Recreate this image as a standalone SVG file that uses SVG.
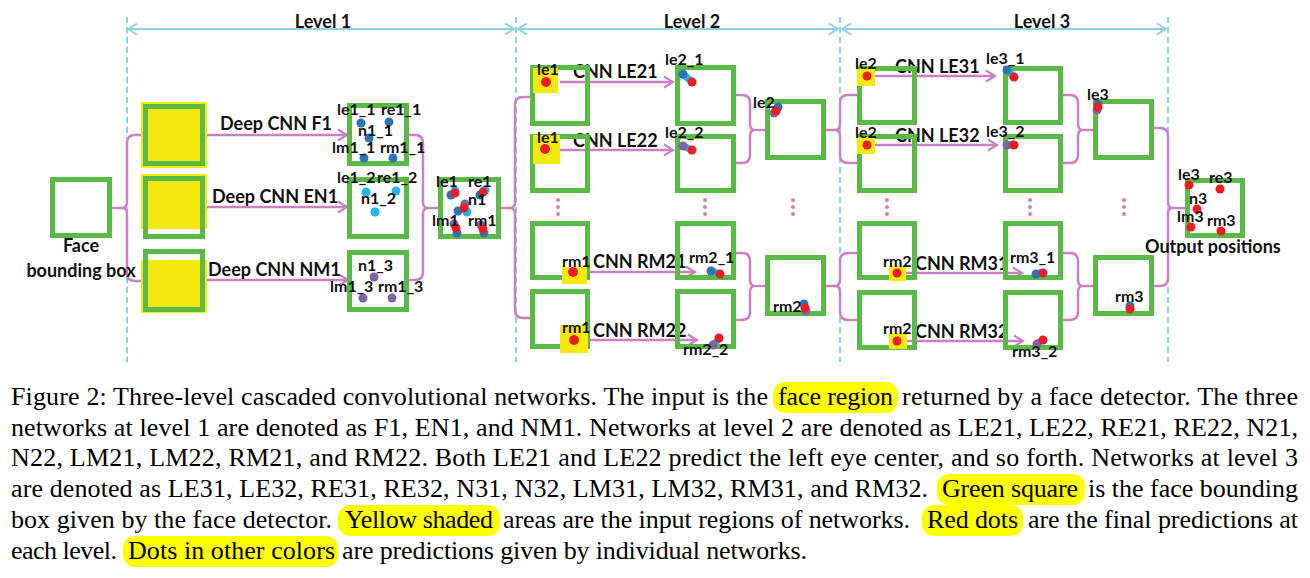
<svg xmlns="http://www.w3.org/2000/svg" width="1310" height="578" viewBox="0 0 1310 578">
<style>
.g{fill:none;stroke:#5bb947;stroke-width:5}
.y{fill:#f5ea10}
.c{fill:none;stroke:#cb80c4;stroke-width:2.5}
.a{marker-end:url(#ap)}
.lv{stroke:#8fd0e6;stroke-width:2;fill:none;marker-start:url(#al);marker-end:url(#al)}
.ds{stroke:#8fd0e6;stroke-width:2;stroke-dasharray:6 4;fill:none}
.t{font-family:Lato,"Open Sans",sans-serif;font-weight:bold;font-size:18px;fill:#111}
.s{font-size:16px}
.m{text-anchor:middle}
.cap{font-family:"Liberation Serif","Times New Roman",serif;font-size:26px;fill:#000}
.hl{fill:#ffff00}
.r{fill:#ee1d24}.b{fill:#2e74b5}.lb{fill:#22b5ec}.p{fill:#8063a4}
.lbl{stroke:#22b5ec;stroke-width:7;stroke-linecap:round}
.dt{fill:#cb80c4}
</style>
<defs>
<marker id="ap" markerUnits="userSpaceOnUse" markerWidth="14" markerHeight="14" refX="11" refY="7" orient="auto"><path d="M2,1.5 L11,7 L2,12.5" fill="none" stroke="#cb80c4" stroke-width="2.2"/></marker>
<marker id="al" markerUnits="userSpaceOnUse" markerWidth="14" markerHeight="14" refX="11" refY="7" orient="auto-start-reverse"><path d="M2,1.5 L11,7 L2,12.5" fill="none" stroke="#8fd0e6" stroke-width="2"/></marker>
</defs>

<g id="levels">
<line class="ds" x1="127" y1="17" x2="127" y2="362"/>
<line class="ds" x1="516" y1="17" x2="516" y2="362"/>
<line class="ds" x1="840" y1="17" x2="840" y2="362"/>
<line class="ds" x1="1168" y1="17" x2="1168" y2="362"/>
<line class="lv" x1="128" y1="29" x2="514" y2="29"/>
<line class="lv" x1="518" y1="29" x2="838" y2="29"/>
<line class="lv" x1="842" y1="29" x2="1166" y2="29"/>
<text class="t m" x="323" y="28">Level 1</text>
<text class="t m" x="692" y="28">Level 2</text>
<text class="t m" x="1042" y="28">Level 3</text>
</g>

<g id="connectors">
<path class="c" d="M112,208 H122 M143,135 H135 Q127,135 127,143 V202 Q127,208 122,208 Q127,208 127,214 V273 Q127,281 135,281 H143"/>
<path class="c a" d="M207,135 H347"/>
<path class="c a" d="M207,207 H347"/>
<path class="c a" d="M207,280 H348"/>
<path class="c" d="M409,135 H415 Q423,135 423,143 V202 Q423,208 428,208 Q423,208 423,214 V272 Q423,280 415,280 H409 M428,208 H439"/>
<path class="c" d="M500,208 H510 M530,97 H523 Q515,97 515,105 V202 Q515,208 510,208 Q515,208 515,214 V310 Q515,318 523,318 H530"/>
<path class="c a" d="M560,82 H673"/>
<path class="c a" d="M560,150 H673"/>
<path class="c a" d="M587,272 H695"/>
<path class="c a" d="M588,340 H697"/>
<path class="c" d="M736,95 H742 Q750,95 750,103 V124 Q750,130 755,130 Q750,130 750,136 V155 Q750,163 742,163 H736 M755,130 H765"/>
<path class="c" d="M736,253 H742 Q750,253 750,261 V280 Q750,286 755,286 Q750,286 750,292 V312 Q750,320 742,320 H736 M755,286 H765"/>
<path class="c" d="M826,130 H835 M857,95 H848 Q840,95 840,103 V124 Q840,130 835,130 Q840,130 840,136 V155 Q840,163 848,163 H857"/>
<path class="c" d="M826,286 H835 M857,253 H848 Q840,253 840,261 V280 Q840,286 835,286 Q840,286 840,292 V312 Q840,320 848,320 H857"/>
<path class="c a" d="M875,76 H995"/>
<path class="c a" d="M875,145 H997"/>
<path class="c a" d="M906,273 H1022"/>
<path class="c a" d="M907,341 H1023"/>
<path class="c" d="M1063,95 H1070 Q1078,95 1078,103 V124 Q1078,130 1083,130 Q1078,130 1078,136 V155 Q1078,163 1070,163 H1063 M1083,130 H1093"/>
<path class="c" d="M1063,253 H1070 Q1078,253 1078,261 V280 Q1078,286 1083,286 Q1078,286 1078,292 V312 Q1078,320 1070,320 H1063 M1083,286 H1093"/>
<path class="c" d="M1154,128 H1160 Q1168,128 1168,136 V202 Q1168,208 1173,208 Q1168,208 1168,214 V278 Q1168,286 1160,286 H1154 M1173,208 H1185"/>
<circle class="dt" cx="558" cy="200" r="2"/><circle class="dt" cx="558" cy="207" r="2"/><circle class="dt" cx="558" cy="214" r="2"/>
<circle class="dt" cx="705" cy="200" r="2"/><circle class="dt" cx="705" cy="207" r="2"/><circle class="dt" cx="705" cy="214" r="2"/>
<circle class="dt" cx="793" cy="200" r="2"/><circle class="dt" cx="793" cy="207" r="2"/><circle class="dt" cx="793" cy="214" r="2"/>
<circle class="dt" cx="887" cy="200" r="2"/><circle class="dt" cx="887" cy="207" r="2"/><circle class="dt" cx="887" cy="214" r="2"/>
<circle class="dt" cx="1030" cy="200" r="2"/><circle class="dt" cx="1030" cy="207" r="2"/><circle class="dt" cx="1030" cy="214" r="2"/>
<circle class="dt" cx="1124" cy="200" r="2"/><circle class="dt" cx="1124" cy="207" r="2"/><circle class="dt" cx="1124" cy="214" r="2"/>
<text class="t" x="220" y="130">Deep CNN F1</text>
<text class="t" x="212" y="203">Deep CNN EN1</text>
<text class="t" x="208" y="276">Deep CNN NM1</text>
<text class="t" x="573" y="78">CNN LE21</text>
<text class="t" x="573" y="147">CNN LE22</text>
<text class="t" x="593" y="268">CNN RM21</text>
<text class="t" x="593" y="337">CNN RM22</text>
<text class="t" x="895" y="73">CNN LE31</text>
<text class="t" x="895" y="142">CNN LE32</text>
<text class="t" x="915" y="270">CNN RM31</text>
<text class="t" x="915" y="338">CNN RM32</text>
</g>

<g id="face">
<rect class="g" x="52.5" y="179.5" width="57" height="56" fill="#fff"/>
<text class="t m" x="81" y="252">Face</text>
<text class="t m" x="81" y="277">bounding box</text>
</g>
<g id="in-F1"><rect class="y" x="141" y="102" width="66" height="66"/><rect class="g" x="145.5" y="106.5" width="57" height="57"/></g>
<g id="in-EN1"><rect class="y" x="141" y="174" width="66" height="55"/><rect class="g" x="145.5" y="178.5" width="57" height="58"/></g>
<g id="in-NM1"><rect class="y" x="141" y="260" width="66" height="53"/><rect class="g" x="145.5" y="251.5" width="57" height="58"/></g>

<g id="out-F1">
<rect class="g" x="349.5" y="105.5" width="57" height="58"/>
<circle class="b" cx="361" cy="123" r="4.5"/><circle class="b" cx="389" cy="122" r="4.5"/><circle class="b" cx="369" cy="138" r="4.5"/><circle class="b" cx="364" cy="158" r="4.5"/><circle class="b" cx="393" cy="158" r="4.5"/>
<text class="t s" x="337" y="115">le1_1</text><text class="t s" x="381" y="115">re1_1</text>
<text class="t s" x="358" y="136">n1_1</text>
<text class="t s" x="332" y="153">lm1_1</text><text class="t s" x="380" y="153">rm1_1</text>
</g>
<g id="out-EN1">
<rect class="g" x="349.5" y="179.5" width="57" height="57"/>
<circle class="lb" cx="366" cy="192" r="4.5"/><circle class="lb" cx="396" cy="191" r="4.5"/><circle class="lb" cx="375" cy="212" r="4.5"/>
<text class="t s" x="337" y="183">le1_2</text><text class="t s" x="377" y="183">re1_2</text>
<text class="t s" x="361" y="204">n1_2</text>
</g>
<g id="out-NM1">
<rect class="g" x="349.5" y="252.5" width="57" height="57"/>
<circle class="p" cx="374" cy="277" r="4.5"/><circle class="p" cx="363" cy="298" r="4.5"/><circle class="p" cx="392" cy="298" r="4.5"/>
<text class="t s" x="358" y="271">n1_3</text>
<text class="t s" x="330" y="292">lm1_3</text><text class="t s" x="378" y="292">rm1_3</text>
</g>
<g id="merge-L1">
<rect class="g" x="440.5" y="179.5" width="58" height="57"/>
<circle class="lb" cx="455" cy="191" r="4.5"/><circle class="b" cx="451" cy="195" r="4.5"/><circle class="r" cx="455" cy="193" r="4.5"/>
<circle class="lb" cx="485" cy="190" r="4.5"/><circle class="b" cx="480" cy="195" r="4.5"/><circle class="r" cx="483" cy="192" r="4.5"/>
<circle class="p" cx="465" cy="204" r="4.5"/><circle class="lb" cx="467" cy="212" r="4.5"/><circle class="b" cx="458" cy="211" r="4.5"/><circle class="r" cx="464" cy="208" r="4.5"/>
<circle class="p" cx="454" cy="224" r="4.5"/><circle class="b" cx="457" cy="233" r="4.5"/><circle class="r" cx="456" cy="228" r="4.5"/>
<circle class="p" cx="481" cy="225" r="4.5"/><circle class="b" cx="484" cy="233" r="4.5"/><circle class="r" cx="483" cy="229" r="4.5"/>
<text class="t s" x="436" y="187">le1</text><text class="t s" x="468" y="187">re1</text>
<text class="t s" x="468" y="205">n1</text>
<text class="t s" x="432" y="226">lm1</text><text class="t s" x="468" y="226">rm1</text>
</g>

<g id="L2-LE21-in"><rect class="g" x="532.5" y="67.5" width="55" height="56"/><rect class="y" x="533" y="68" width="25" height="25"/><circle class="r" cx="546" cy="82" r="5"/><text class="t s" x="537" y="75">le1</text></g>
<g id="L2-LE22-in"><rect class="g" x="532.5" y="136.5" width="55" height="54"/><rect class="y" x="533" y="135" width="27" height="29"/><circle class="r" cx="545" cy="149" r="5"/><text class="t s" x="537" y="143">le1</text></g>
<g id="L2-RM21-in"><rect class="g" x="532.5" y="223.5" width="55" height="54"/><rect class="y" x="562" y="267" width="25" height="17"/><circle class="r" cx="573" cy="272" r="5"/><text class="t s" x="562" y="267">rm1</text></g>
<g id="L2-RM22-in"><rect class="g" x="532.5" y="291.5" width="55" height="55"/><rect class="y" x="560" y="325" width="28" height="28"/><circle class="r" cx="574" cy="340" r="5"/><text class="t s" x="562" y="333">rm1</text></g>

<g id="L2-LE21-out"><rect class="g" x="677.5" y="67.5" width="56" height="56"/><line class="lbl" x1="684" y1="75" x2="691" y2="81"/><circle class="b" cx="683" cy="74" r="4.5"/><circle class="r" cx="692" cy="82" r="4.5"/><text class="t s" x="665" y="65">le2_1</text></g>
<g id="L2-LE22-out"><rect class="g" x="677.5" y="136.5" width="56" height="54"/><line class="lbl" x1="684" y1="146" x2="691" y2="150"/><circle class="p" cx="683" cy="146" r="4.5"/><circle class="r" cx="692" cy="150" r="4.5"/><text class="t s" x="665" y="138">le2_2</text></g>
<g id="L2-RM21-out"><rect class="g" x="677.5" y="223.5" width="56" height="54"/><line class="lbl" x1="712" y1="271" x2="719" y2="274"/><circle class="b" cx="711" cy="271" r="4.5"/><circle class="r" cx="720" cy="274" r="4.5"/><text class="t s" x="689" y="263">rm2_1</text></g>
<g id="L2-RM22-out"><rect class="g" x="677.5" y="291.5" width="56" height="55"/><line class="lbl" x1="713" y1="345" x2="719" y2="339"/><circle class="p" cx="713" cy="345" r="4.5"/><circle class="r" cx="719" cy="338" r="4.5"/><text class="t s" x="683" y="355">rm2_2</text></g>
<g id="L2-le2"><rect class="g" x="767.5" y="101.5" width="56" height="56"/><circle class="b" cx="778" cy="107" r="4.5"/><circle class="p" cx="774" cy="113" r="4.5"/><circle class="r" cx="776" cy="111" r="4.5"/><text class="t s" x="753" y="108">le2</text></g>
<g id="L2-rm2"><rect class="g" x="767.5" y="257.5" width="56" height="56"/><circle class="b" cx="804" cy="304" r="4.5"/><circle class="p" cx="806" cy="311" r="4.5"/><circle class="r" cx="805" cy="308" r="4.5"/><text class="t s" x="773" y="312">rm2</text></g>

<g id="L3-LE31-in"><rect class="g" x="859.5" y="68.5" width="55" height="54"/><rect class="y" x="857" y="69" width="18" height="17"/><circle class="r" cx="867" cy="76" r="4.5"/><text class="t s" x="855" y="69">le2</text></g>
<g id="L3-LE32-in"><rect class="g" x="859.5" y="136.5" width="55" height="54"/><rect class="y" x="857" y="137" width="18" height="17"/><circle class="r" cx="867" cy="145" r="4.5"/><text class="t s" x="855" y="138">le2</text></g>
<g id="L3-RM31-in"><rect class="g" x="859.5" y="223.5" width="55" height="54"/><rect class="y" x="889" y="266" width="17" height="15"/><circle class="r" cx="897" cy="273" r="4.5"/><text class="t s" x="883" y="267">rm2</text></g>
<g id="L3-RM32-in"><rect class="g" x="859.5" y="292.5" width="55" height="55"/><rect class="y" x="889" y="333" width="18" height="16"/><circle class="r" cx="897" cy="341" r="4.5"/><text class="t s" x="883" y="334">rm2</text></g>

<g id="L3-LE31-out"><rect class="g" x="1005.5" y="68.5" width="55" height="54"/><line class="lbl" x1="1008" y1="71" x2="1013" y2="76"/><circle class="b" cx="1007" cy="70" r="4.5"/><circle class="r" cx="1014" cy="77" r="4.5"/><text class="t s" x="986" y="64">le3_1</text></g>
<g id="L3-LE32-out"><rect class="g" x="1005.5" y="136.5" width="55" height="54"/><line class="lbl" x1="1008" y1="145" x2="1013" y2="144"/><circle class="p" cx="1007" cy="145" r="4.5"/><circle class="r" cx="1014" cy="145" r="4.5"/><text class="t s" x="986" y="137">le3_2</text></g>
<g id="L3-RM31-out"><rect class="g" x="1005.5" y="223.5" width="55" height="54"/><line class="lbl" x1="1037" y1="274" x2="1042" y2="272"/><circle class="b" cx="1036" cy="274" r="4.5"/><circle class="r" cx="1043" cy="273" r="4.5"/><text class="t s" x="1010" y="263">rm3_1</text></g>
<g id="L3-RM32-out"><rect class="g" x="1005.5" y="292.5" width="55" height="55"/><line class="lbl" x1="1038" y1="343" x2="1042" y2="340"/><circle class="p" cx="1037" cy="344" r="4.5"/><circle class="r" cx="1043" cy="340" r="4.5"/><text class="t s" x="1012" y="357">rm3_2</text></g>
<g id="L3-le3"><rect class="g" x="1095.5" y="101.5" width="56" height="56"/><circle class="b" cx="1098" cy="104" r="4.5"/><circle class="p" cx="1097" cy="110" r="4.5"/><circle class="r" cx="1098" cy="107" r="4.5"/><text class="t s" x="1087" y="100">le3</text></g>
<g id="L3-rm3"><rect class="g" x="1095.5" y="257.5" width="56" height="56"/><circle class="b" cx="1130" cy="306" r="4.5"/><circle class="r" cx="1130" cy="309" r="4.5"/><text class="t s" x="1115" y="302">rm3</text></g>

<g id="output">
<rect class="g" x="1187.5" y="180.5" width="55" height="55"/>
<circle class="r" cx="1189" cy="185" r="4.5"/><circle class="r" cx="1220" cy="189" r="4.5"/><circle class="r" cx="1197" cy="209" r="4.5"/><circle class="r" cx="1191" cy="227" r="4.5"/><circle class="r" cx="1221" cy="231" r="4.5"/>
<text class="t s" x="1178" y="180">le3</text><text class="t s" x="1209" y="183">re3</text>
<text class="t s" x="1189" y="204">n3</text>
<text class="t s" x="1177" y="222">lm3</text><text class="t s" x="1207" y="226">rm3</text>
<text class="t" x="1145" y="253">Output positions</text>
</g>

<g id="caption">
<rect class="hl" x="773" y="382" width="125" height="31" rx="12"/>
<rect class="hl" x="937" y="474" width="148" height="31" rx="12"/>
<rect class="hl" x="338" y="505" width="162" height="31" rx="12"/>
<rect class="hl" x="922" y="505" width="101" height="31" rx="12"/>
<rect class="hl" x="123" y="536" width="215" height="31" rx="12"/>
<text class="cap" x="11" y="405" textLength="757" lengthAdjust="spacing">Figure 2: Three-level cascaded convolutional networks. The input is the</text>
<text class="cap" x="778" y="405" textLength="115" lengthAdjust="spacing">face region</text>
<text class="cap" x="902" y="405" textLength="396" lengthAdjust="spacing">returned by a face detector. The three</text>
<text class="cap" x="11" y="435.5" textLength="1287" lengthAdjust="spacing">networks at level 1 are denoted as F1, EN1, and NM1. Networks at level 2 are denoted as LE21, LE22, RE21, RE22, N21,</text>
<text class="cap" x="11" y="466" textLength="1287" lengthAdjust="spacing">N22, LM21, LM22, RM21, and RM22. Both LE21 and LE22 predict the left eye center, and so forth. Networks at level 3</text>
<text class="cap" x="11" y="497" textLength="917" lengthAdjust="spacing">are denoted as LE31, LE32, RE31, RE32, N31, N32, LM31, LM32, RM31, and RM32.</text>
<text class="cap" x="942" y="497" textLength="136" lengthAdjust="spacing">Green square</text>
<text class="cap" x="1088" y="497" textLength="210" lengthAdjust="spacing">is the face bounding</text>
<text class="cap" x="11" y="528" textLength="321" lengthAdjust="spacing">box given by the face detector.</text>
<text class="cap" x="345" y="528" textLength="148" lengthAdjust="spacing">Yellow shaded</text>
<text class="cap" x="503" y="528" textLength="407" lengthAdjust="spacing">areas are the input regions of networks.</text>
<text class="cap" x="927" y="528" textLength="91" lengthAdjust="spacing">Red dots</text>
<text class="cap" x="1028" y="528" textLength="270" lengthAdjust="spacing">are the final predictions at</text>
<text class="cap" x="11" y="559" textLength="106" lengthAdjust="spacing">each level.</text>
<text class="cap" x="128" y="559" textLength="207" lengthAdjust="spacing">Dots in other colors</text>
<text class="cap" x="342" y="559" textLength="465" lengthAdjust="spacing">are predictions given by individual networks.</text>
</g>
</svg>
